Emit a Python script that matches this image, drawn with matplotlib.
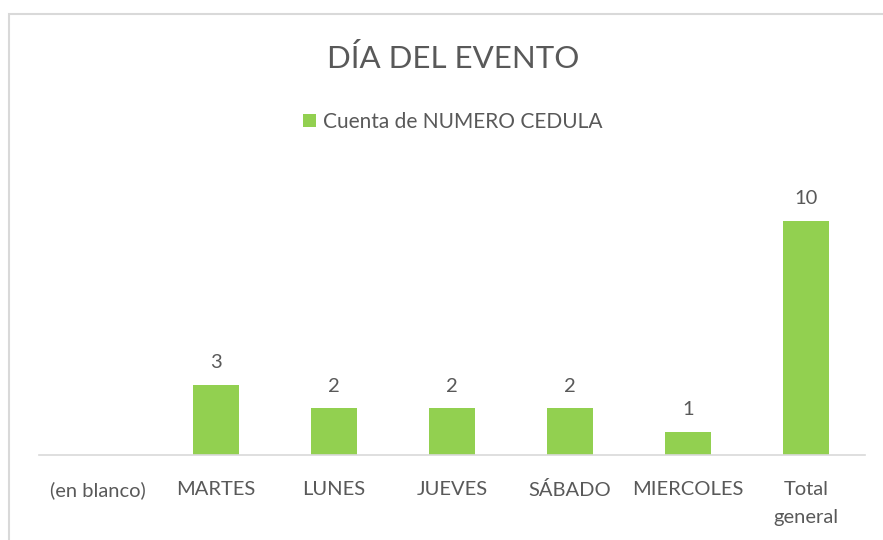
import matplotlib.pyplot as plt
from matplotlib.patches import Rectangle

categorias = ["(en blanco)", "MARTES", "LUNES", "JUEVES", "SÁBADO", "MIERCOLES", "Total\ngeneral"]
valores = [0, 3, 2, 2, 2, 1, 10]
etiquetas = ["", "3", "2", "2", "2", "1", "10"]

plt.rcParams['font.family'] = ['Lato', 'DejaVu Sans']
gris = "#595959"
verde = "#92D050"

fig = plt.figure(figsize=(8.83, 5.4), dpi=100)
fig.patches.append(Rectangle((9 / 883, -0.01), 1.0, (540 - 14) / 540 + 0.01,
                             transform=fig.transFigure, fill=False,
                             edgecolor="#D9D9D9", linewidth=1.5))

ax = fig.add_axes([39 / 883, 85 / 540, 826 / 883, 281 / 540])
x = range(len(categorias))
bars = ax.bar(x, valores, width=0.39, color=verde, label="Cuenta de NUMERO CEDULA")
for b, t in zip(bars, etiquetas):
    if t:
        ax.text(b.get_x() + b.get_width() / 2, b.get_height() + 0.57, t,
                ha="center", va="bottom", fontsize=14.5, color=gris)

ax.set_xlim(-0.5, len(categorias) - 0.5)
ax.set_ylim(0, 12)
ax.set_yticks([])
ax.set_xticks(list(x))
ax.set_xticklabels(categorias, fontsize=14.5, color=gris, linespacing=1.75)
ax.tick_params(axis="x", length=0, pad=19)
for s in ["top", "right", "left"]:
    ax.spines[s].set_visible(False)
ax.spines["bottom"].set_color("#D9D9D9")
ax.spines["bottom"].set_linewidth(1.2)

fig.text(453 / 883, 1 - 59 / 540, "DÍA DEL EVENTO", ha="center", va="center",
         fontsize=22.5, color=gris)
fig.legend(loc="center", bbox_to_anchor=(453 / 883, 1 - 122 / 540), frameon=False,
           fontsize=15, labelcolor=gris, handlelength=0.6, handleheight=0.6,
           handletextpad=0.35)

fig.savefig("out.png", dpi=100)
